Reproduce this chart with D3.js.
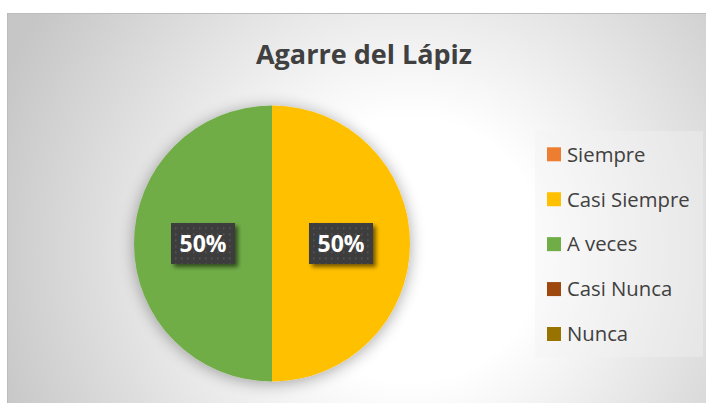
<!DOCTYPE html>
<html>
<head>
<meta charset="utf-8">
<script src="https://cdn.jsdelivr.net/npm/d3@7"></script>
<style>
  html, body { margin: 0; padding: 0; background: #fff; }
  svg { display: block; }
</style>
</head>
<body>
<svg id="view"></svg>
<script>
var categories = ["Siempre", "Casi Siempre", "A veces", "Casi Nunca", "Nunca"];
var values = [0, 50, 50, 0, 0];
var colors = ["#ED7D31", "#FFC000", "#70AD47", "#9E480E", "#997300"];
var title = "Agarre del Lápiz";

var width = 706, height = 403;
var svg = d3.select("#view").attr("width", width).attr("height", height);
var defs = svg.append("defs");

// background gradient
var grad = defs.append("radialGradient").attr("id", "bg")
	.attr("gradientUnits", "userSpaceOnUse")
	.attr("cx", 410).attr("cy", 250).attr("r", 440);
grad.append("stop").attr("offset", 0).attr("stop-color", "#ffffff");
grad.append("stop").attr("offset", 0.3).attr("stop-color", "#ffffff");
grad.append("stop").attr("offset", 1).attr("stop-color", "#c6c6c6");

// soft shadow for the pie
var pf = defs.append("filter").attr("id", "pieShadow")
	.attr("x", "-30%").attr("y", "-30%").attr("width", "160%").attr("height", "160%");
pf.append("feGaussianBlur").attr("in", "SourceAlpha").attr("stdDeviation", 8).attr("result", "b");
pf.append("feOffset").attr("in", "b").attr("dx", 0).attr("dy", 2).attr("result", "o");
pf.append("feComponentTransfer").attr("in", "o").attr("result", "s")
	.append("feFuncA").attr("type", "linear").attr("slope", 0.35);
var pm = pf.append("feMerge");
pm.append("feMergeNode").attr("in", "s");
pm.append("feMergeNode").attr("in", "SourceGraphic");

// shadow for the label boxes
var lf = defs.append("filter").attr("id", "lblShadow")
	.attr("x", "-30%").attr("y", "-30%").attr("width", "160%").attr("height", "160%");
lf.append("feGaussianBlur").attr("in", "SourceAlpha").attr("stdDeviation", 2).attr("result", "b");
lf.append("feOffset").attr("in", "b").attr("dx", 3).attr("dy", 3).attr("result", "o");
lf.append("feComponentTransfer").attr("in", "o").attr("result", "s")
	.append("feFuncA").attr("type", "linear").attr("slope", 0.55);
var lm = lf.append("feMerge");
lm.append("feMergeNode").attr("in", "s");
lm.append("feMergeNode").attr("in", "SourceGraphic");

// dotted pattern on the label boxes
var pat = defs.append("pattern").attr("id", "dots")
	.attr("patternUnits", "userSpaceOnUse").attr("width", 6).attr("height", 6);
pat.append("rect").attr("width", 6).attr("height", 6).attr("fill", "#3c3c3c");
pat.append("rect").attr("x", 2).attr("y", 2).attr("width", 1.5).attr("height", 1.5).attr("fill", "#5a5a5a");

// chart area
svg.append("rect")
	.attr("x", 7.5).attr("y", 13.5)
	.attr("width", 720).attr("height", 420)
	.attr("fill", "url(#bg)")
	.attr("stroke", "#bcbcbc").attr("stroke-width", 1);

svg.append("text")
	.attr("x", 364).attr("y", 64)
	.attr("text-anchor", "middle")
	.attr("font-family", "'Open Sans', sans-serif")
	.attr("font-weight", "bold")
	.attr("font-size", 27)
	.attr("fill", "#404040")
	.text(title);

// pie
var cx = 272, cy = 243.5, radius = 138;
var data = categories.map((c, i) => ({ name: c, value: values[i], color: colors[i] }));
var pie = d3.pie().sort(null).value(d => d.value);
var arc = d3.arc().innerRadius(0).outerRadius(radius);
var arcs = pie(data).filter(d => d.data.value > 0);

var g = svg.append("g").attr("transform", `translate(${cx},${cy})`);
g.append("g").attr("filter", "url(#pieShadow)")
	.selectAll("path")
	.data(arcs)
	.join("path")
	.attr("d", arc)
	.attr("fill", d => d.data.color);

var total = d3.sum(values);
var labelArc = d3.arc().innerRadius(radius / 2).outerRadius(radius / 2);
var lbl = g.selectAll("g.lbl")
	.data(arcs)
	.join("g")
	.attr("class", "lbl")
	.attr("transform", d => `translate(${labelArc.centroid(d)})`);
lbl.append("rect")
	.attr("x", -32).attr("y", -20.5)
	.attr("width", 64).attr("height", 41)
	.attr("fill", "url(#dots)")
	.attr("filter", "url(#lblShadow)");
lbl.append("text")
	.attr("text-anchor", "middle")
	.attr("dy", "0.36em")
	.attr("font-family", "'Open Sans', sans-serif")
	.attr("font-weight", "bold")
	.attr("font-size", 23)
	.attr("fill", "#ffffff")
	.text(d => Math.round(d.data.value / total * 100) + "%");

// legend
svg.append("rect")
	.attr("x", 535).attr("y", 131)
	.attr("width", 168).attr("height", 226)
	.attr("fill", "#f2f2f2").attr("fill-opacity", 0.4);

var ly = d3.scalePoint().domain(categories).range([154.3, 334]);
var leg = svg.append("g").selectAll("g")
	.data(data)
	.join("g")
	.attr("transform", d => `translate(547,${ly(d.name)})`);
leg.append("rect")
	.attr("x", 0).attr("y", -7)
	.attr("width", 14).attr("height", 14)
	.attr("fill", d => d.color);
leg.append("text")
	.attr("x", 20).attr("dy", "0.36em")
	.attr("font-family", "'Open Sans', sans-serif")
	.attr("font-size", 20.3)
	.attr("fill", "#404040")
	.text(d => d.name);
</script>
</body>
</html>
